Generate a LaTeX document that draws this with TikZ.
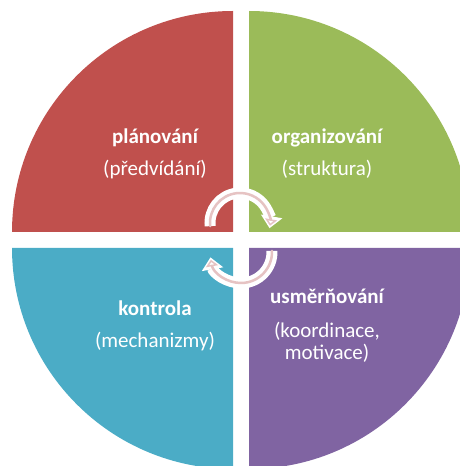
\documentclass[tikz,border=0pt]{standalone}
\usepackage{fontspec}
\setmainfont{Carlito}
\usetikzlibrary{arrows.meta}
\definecolor{qred}{HTML}{C0504D}
\definecolor{qgreen}{HTML}{9BBB59}
\definecolor{qblue}{HTML}{4BACC6}
\definecolor{qpurple}{HTML}{8064A2}
\definecolor{arrowpink}{HTML}{E6C3C3}
\begin{document}
\begin{tikzpicture}[x=1pt,y=1pt,
  quarter/.style={fill=#1, draw=none},
  headline/.style={font=\fontsize{21}{25}\selectfont\bfseries, text=white, anchor=base, inner sep=0pt},
  subline/.style={font=\fontsize{21}{25}\selectfont, text=white, anchor=base, inner sep=0pt},
  bandwhite/.style={line width=11pt, draw=white, line cap=butt,
    -{Triangle[width=21pt,length=12pt]}},
  bandpink/.style={line width=2.5pt, draw=arrowpink, line cap=round, shorten >=2.5pt,
    -{Triangle[open,width=12pt,length=6.5pt,line width=1.5pt]}}]
\useasboundingbox (0,0) rectangle (460,466);
\clip (0,0) rectangle (460,466);

% four quarter-circle sectors, separated by white gaps
\fill[quarter=qred]    (233,234) -- ++(-221,0) arc[start angle=180, end angle=90,  radius=221] -- cycle;
\fill[quarter=qgreen]  (249,234) -- ++(0,221)  arc[start angle=90,  end angle=0,   radius=221] -- cycle;
\fill[quarter=qblue]   (233,218) -- ++(0,-221) arc[start angle=270, end angle=180, radius=221] -- cycle;
\fill[quarter=qpurple] (249,218) -- ++(221,0)  arc[start angle=0,   end angle=-90, radius=221] -- cycle;

% circular arrows in the centre (clockwise cycle)
\draw[bandwhite] (240,243) ++(186:30) arc[start angle=186, end angle=-10, radius=30];
\draw[bandpink]  (240,243) ++(186:30) arc[start angle=186, end angle=-10, radius=30];
\draw[bandwhite] (241,214) ++(2:31) arc[start angle=2, end angle=-170, radius=31];
\draw[bandpink]  (241,214) ++(2:31) arc[start angle=2, end angle=-170, radius=31];

% labels
\node[headline] (plan)  at (155,322) {plánování};
\node[subline]  (plans) at (155,290) {(předvídání)};
\node[headline] (org)   at (327,322) {organizování};
\node[subline]  (orgs)  at (327,290) {(struktura)};
\node[headline] (kon)   at (155,150) {kontrola};
\node[subline]  (kons)  at (155,118) {(mechanizmy)};
\node[headline] (usm)   at (327,162) {usměrňování};
\node[subline]  (usms1) at (327,128) {(koordinace,};
\node[subline]  (usms2) at (327,106) {motivace)};
\end{tikzpicture}
\end{document}
